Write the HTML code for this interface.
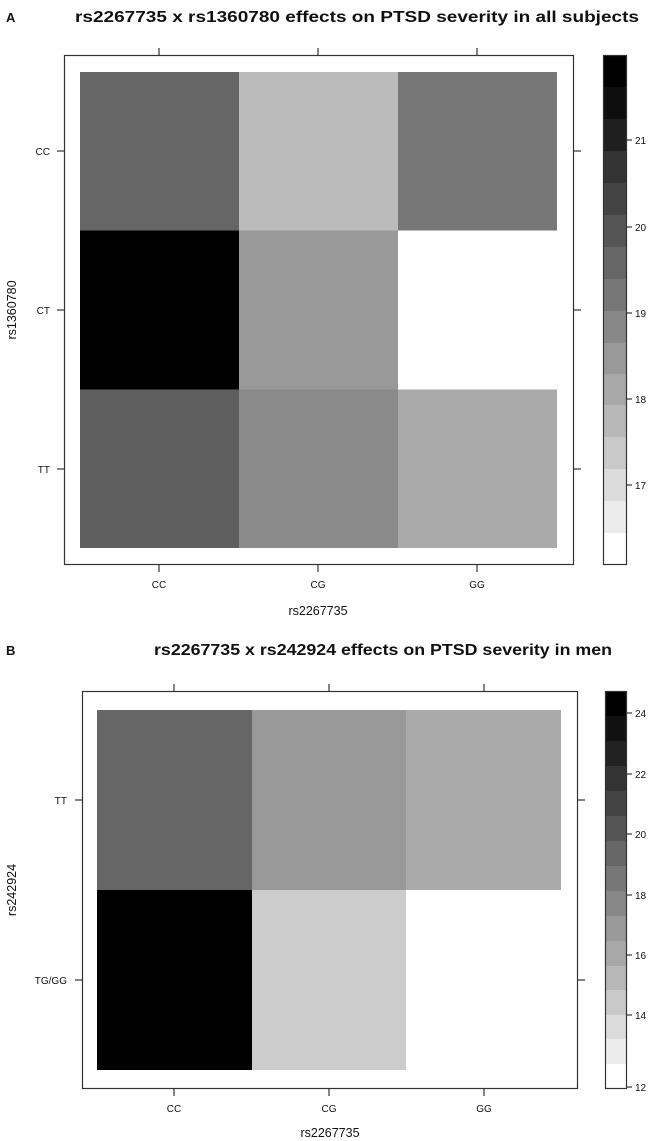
<!DOCTYPE html>
<html><head><meta charset="utf-8"><style>
html,body{margin:0;padding:0;background:#fff}
svg{display:block}
text{font-family:"Liberation Sans",Arial,sans-serif;fill:#111}
</style></head><body>
<svg width="655" height="1141" viewBox="0 0 655 1141" xmlns="http://www.w3.org/2000/svg">
<!-- Panel A -->
<text x="6" y="22" font-size="13" font-weight="bold">A</text>
<text x="75" y="22" font-size="16" font-weight="bold" textLength="564" lengthAdjust="spacingAndGlyphs">rs2267735 x rs1360780 effects on PTSD severity in all subjects</text>
<g shape-rendering="crispEdges">
<rect x="80" y="72" width="159" height="158.7" fill="#666"/>
<rect x="239" y="72" width="159" height="158.7" fill="#bbb"/>
<rect x="398" y="72" width="159" height="158.7" fill="#777"/>
<rect x="80" y="230.7" width="159" height="158.7" fill="#000"/>
<rect x="239" y="230.7" width="159" height="158.7" fill="#999"/>
<rect x="398" y="230.7" width="159" height="158.7" fill="#fff"/>
<rect x="80" y="389.4" width="159" height="158.6" fill="#5f5f5f"/>
<rect x="239" y="389.4" width="159" height="158.6" fill="#8a8a8a"/>
<rect x="398" y="389.4" width="159" height="158.6" fill="#aaa"/>
</g>
<rect x="64.5" y="55.5" width="509" height="509" fill="none" stroke="#333" stroke-width="1.2"/>
<g stroke="#333" stroke-width="1.2">
<line x1="159" y1="48" x2="159" y2="55"/><line x1="318" y1="48" x2="318" y2="55"/><line x1="477" y1="48" x2="477" y2="55"/>
<line x1="159" y1="565" x2="159" y2="572"/><line x1="318" y1="565" x2="318" y2="572"/><line x1="477" y1="565" x2="477" y2="572"/>
<line x1="57" y1="151" x2="64" y2="151"/><line x1="57" y1="310" x2="64" y2="310"/><line x1="57" y1="469" x2="64" y2="469"/>
<line x1="574" y1="151" x2="581" y2="151"/><line x1="574" y1="310" x2="581" y2="310"/><line x1="574" y1="469" x2="581" y2="469"/>
</g>
<g font-size="10" text-anchor="middle">
<text x="159" y="588">CC</text><text x="318" y="588">CG</text><text x="477" y="588">GG</text>
</g>
<g font-size="10" text-anchor="end">
<text x="50" y="155">CC</text><text x="50" y="314">CT</text><text x="50" y="473">TT</text>
</g>
<text x="318" y="615" font-size="12.5" text-anchor="middle">rs2267735</text>
<text transform="translate(16,310) rotate(-90)" font-size="12.5" text-anchor="middle">rs1360780</text>
<!-- Colorbar A -->
<g shape-rendering="crispEdges">
<rect x="603" y="55" width="23" height="32" fill="#000"/>
<rect x="603" y="87" width="23" height="32" fill="#0e0e0e"/>
<rect x="603" y="119" width="23" height="32" fill="#1f1f1f"/>
<rect x="603" y="151" width="23" height="32" fill="#333"/>
<rect x="603" y="183" width="23" height="32" fill="#444"/>
<rect x="603" y="215" width="23" height="32" fill="#555"/>
<rect x="603" y="247" width="23" height="32" fill="#666"/>
<rect x="603" y="279" width="23" height="32" fill="#777"/>
<rect x="603" y="311" width="23" height="32" fill="#888"/>
<rect x="603" y="343" width="23" height="31" fill="#999"/>
<rect x="603" y="374" width="23" height="31" fill="#a8a8a8"/>
<rect x="603" y="405" width="23" height="32" fill="#b8b8b8"/>
<rect x="603" y="437" width="23" height="32" fill="#c9c9c9"/>
<rect x="603" y="469" width="23" height="32" fill="#dcdcdc"/>
<rect x="603" y="501" width="23" height="32" fill="#ececec"/>
<rect x="603" y="533" width="23" height="31" fill="#fff"/>
</g>
<rect x="603.5" y="55.5" width="23" height="509" fill="none" stroke="#333" stroke-width="1.2"/>
<g stroke="#333" stroke-width="1.2">
<line x1="627" y1="140" x2="632" y2="140"/><line x1="627" y1="227" x2="632" y2="227"/><line x1="627" y1="313" x2="632" y2="313"/><line x1="627" y1="399" x2="632" y2="399"/><line x1="627" y1="485" x2="632" y2="485"/>
</g>
<g font-size="10">
<text x="635" y="144">21</text><text x="635" y="231">20</text><text x="635" y="317">19</text><text x="635" y="403">18</text><text x="635" y="489">17</text>
</g>

<!-- Panel B -->
<text x="6" y="655" font-size="13" font-weight="bold">B</text>
<text x="154" y="655" font-size="16" font-weight="bold" textLength="458" lengthAdjust="spacingAndGlyphs">rs2267735 x rs242924 effects on PTSD severity in men</text>
<g shape-rendering="crispEdges">
<rect x="97" y="710" width="155" height="180" fill="#666"/>
<rect x="252" y="710" width="154" height="180" fill="#999"/>
<rect x="406" y="710" width="155" height="180" fill="#aaa"/>
<rect x="97" y="890" width="155" height="180" fill="#000"/>
<rect x="252" y="890" width="154" height="180" fill="#ccc"/>
</g>
<rect x="82.5" y="691.5" width="495" height="397" fill="none" stroke="#333" stroke-width="1.2"/>
<g stroke="#333" stroke-width="1.2">
<line x1="174" y1="684" x2="174" y2="691"/><line x1="329" y1="684" x2="329" y2="691"/><line x1="484" y1="684" x2="484" y2="691"/>
<line x1="174" y1="1089" x2="174" y2="1096"/><line x1="329" y1="1089" x2="329" y2="1096"/><line x1="484" y1="1089" x2="484" y2="1096"/>
<line x1="75" y1="800" x2="82" y2="800"/><line x1="75" y1="980" x2="82" y2="980"/>
<line x1="578" y1="800" x2="585" y2="800"/><line x1="578" y1="980" x2="585" y2="980"/>
</g>
<g font-size="10" text-anchor="middle">
<text x="174" y="1112">CC</text><text x="329" y="1112">CG</text><text x="484" y="1112">GG</text>
</g>
<g font-size="10" text-anchor="end">
<text x="67" y="804">TT</text><text x="67" y="984">TG/GG</text>
</g>
<text x="330" y="1137" font-size="12.5" text-anchor="middle">rs2267735</text>
<text transform="translate(16,890) rotate(-90)" font-size="12.5" text-anchor="middle">rs242924</text>
<!-- Colorbar B -->
<g shape-rendering="crispEdges">
<rect x="605" y="691" width="21" height="25" fill="#000"/>
<rect x="605" y="716" width="21" height="25" fill="#111"/>
<rect x="605" y="741" width="21" height="25" fill="#222"/>
<rect x="605" y="766" width="21" height="25" fill="#333"/>
<rect x="605" y="791" width="21" height="25" fill="#444"/>
<rect x="605" y="816" width="21" height="25" fill="#555"/>
<rect x="605" y="841" width="21" height="25" fill="#666"/>
<rect x="605" y="866" width="21" height="25" fill="#777"/>
<rect x="605" y="891" width="21" height="25" fill="#888"/>
<rect x="605" y="916" width="21" height="25" fill="#999"/>
<rect x="605" y="941" width="21" height="25" fill="#a8a8a8"/>
<rect x="605" y="966" width="21" height="24" fill="#b8b8b8"/>
<rect x="605" y="990" width="21" height="25" fill="#c9c9c9"/>
<rect x="605" y="1015" width="21" height="24" fill="#dcdcdc"/>
<rect x="605" y="1039" width="21" height="25" fill="#ececec"/>
<rect x="605" y="1064" width="21" height="24" fill="#fff"/>
</g>
<rect x="605.5" y="691.5" width="21" height="397" fill="none" stroke="#333" stroke-width="1.2"/>
<g stroke="#333" stroke-width="1.2">
<line x1="627" y1="713" x2="632" y2="713"/><line x1="627" y1="774" x2="632" y2="774"/><line x1="627" y1="834" x2="632" y2="834"/><line x1="627" y1="895" x2="632" y2="895"/><line x1="627" y1="955" x2="632" y2="955"/><line x1="627" y1="1015" x2="632" y2="1015"/><line x1="627" y1="1087" x2="632" y2="1087"/>
</g>
<g font-size="10">
<text x="635" y="717">24</text><text x="635" y="778">22</text><text x="635" y="838">20</text><text x="635" y="899">18</text><text x="635" y="959">16</text><text x="635" y="1019">14</text><text x="635" y="1091">12</text>
</g>
</svg>
</body></html>
